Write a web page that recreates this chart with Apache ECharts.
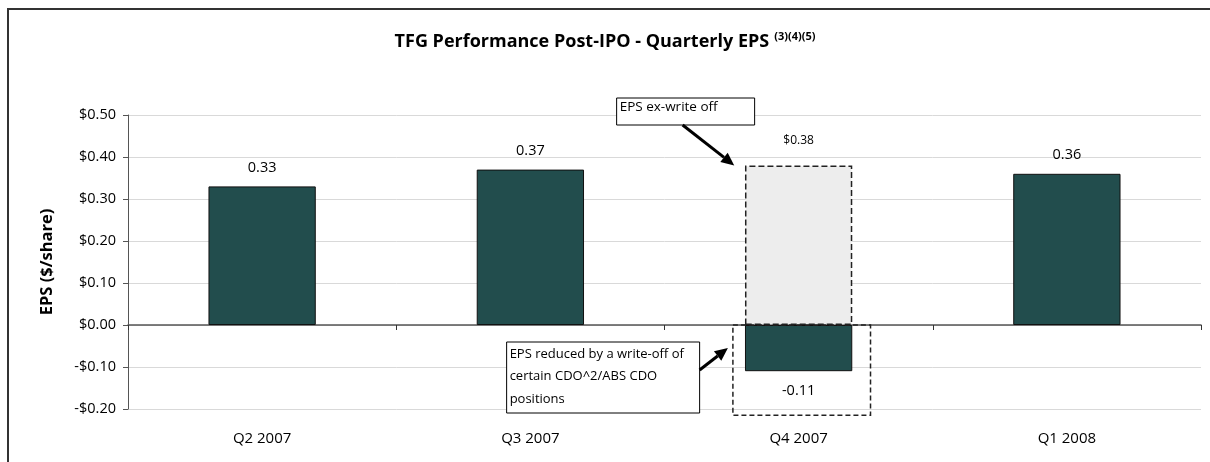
<!DOCTYPE html>
<html lang="en">
<head>
    <meta charset="UTF-8">
    <title>TFG Quarterly EPS</title>
    <style>
        html, body { margin: 0; padding: 0; background: #fff; }
        #chart { width: 1210px; height: 462px; }
    </style>
</head>
<body>
<div id="chart"></div>
<script src="https://cdn.jsdelivr.net/npm/echarts@6/dist/echarts.min.js"></script>
<script>
    // data
    const categories = ['Q2 2007', 'Q3 2007', 'Q4 2007', 'Q1 2008'];
    const epsValues = [0.33, 0.37, -0.11, 0.36];
    const exWriteOffValues = [null, null, 0.38, null];
    const yMin = -0.2;
    const yMax = 0.5;
    const yStep = 0.1;
    const writeOffBoxFloor = -0.215;   // bottom of the dashed box round the negative bar

    const font = '"Open Sans", Lato, sans-serif';
    const barColor = '#224d4d';

    const chart = echarts.init(document.getElementById('chart'));

    /* y label format: $0.10 / -$0.10 */
    function money(v) {
        const s = '$' + Math.abs(v).toFixed(2);
        return v < 0 ? '-' + s : s;
    }

    const option = {
        animation: false,
        title: {
            text: '{t|TFG Performance Post-IPO - Quarterly EPS} {s|(3)(4)(5)}',
            left: 'center',
            top: 26,
            textStyle: {
                rich: {
                    t: { fontFamily: font, fontWeight: 'bold', fontSize: 18, color: '#000' },
                    s: { fontFamily: font, fontWeight: 'bold', fontSize: 11, color: '#000', padding: [0, 0, 10, 0] }
                }
            }
        },
        grid: { left: 128, right: 9, top: 115, bottom: 53, containLabel: false },
        xAxis: [{
            type: 'category',
            data: categories,
            axisLine: { onZero: true, lineStyle: { color: '#555', width: 1.5 } },
            axisTick: { show: true, length: 5, inside: false, lineStyle: { color: '#333' } },
            axisLabel: { show: false },
            splitLine: { show: false }
        }, {
            type: 'category',
            data: categories,
            position: 'bottom',
            axisLine: { show: false, onZero: false },
            axisTick: { show: false },
            axisLabel: { show: true, margin: 22, fontFamily: font, fontSize: 15, color: '#000' }
        }],
        yAxis: {
            type: 'value',
            min: yMin,
            max: yMax,
            interval: yStep,
            name: 'EPS ($/share)',
            nameLocation: 'middle',
            nameGap: 72,
            nameTextStyle: { fontFamily: font, fontWeight: 'bold', fontSize: 16.5, color: '#000' },
            axisLine: { show: true, lineStyle: { color: '#555' } },
            axisTick: { show: true, length: 5, lineStyle: { color: '#555' } },
            axisLabel: { margin: 12, fontFamily: font, fontSize: 14.5, color: '#000', formatter: money },
            splitLine: { lineStyle: { color: '#d9d9d9' } }
        },
        series: [{
            name: 'EPS',
            type: 'bar',
            data: epsValues,
            barWidth: '40%',
            barGap: '-100%',
            itemStyle: { color: barColor, borderColor: '#111', borderWidth: 1 },
            label: {
                show: true,
                position: 'top',
                distance: 11,
                fontFamily: font,
                fontSize: 14.5,
                color: '#000',
                formatter: p => p.value.toFixed(2)
            },
            z: 3
        }, {
            name: 'EPS ex-write off',
            type: 'bar',
            data: exWriteOffValues,
            barWidth: '40%',
            barGap: '-100%',
            itemStyle: {
                color: '#ededed',
                borderColor: '#222',
                borderWidth: 1.5,
                borderType: 'dashed'
            },
            label: {
                show: true,
                position: 'top',
                distance: 19,
                fontFamily: font,
                fontSize: 12,
                color: '#000',
                formatter: p => money(p.value)
            },
            z: 2
        }]
    };

    // negative bar label goes underneath
    option.series[0].data = epsValues.map(v => v < 0
        ? { value: v, label: { position: 'bottom', distance: 12 } }
        : v);

    chart.setOption(option);

    /* arrow = line plus head */
    function arrow(x1, y1, x2, y2) {
        const dx = x2 - x1, dy = y2 - y1;
        const len = Math.sqrt(dx * dx + dy * dy);
        const ux = dx / len, uy = dy / len;
        const hl = 13, hw = 6;
        const bx = x2 - ux * hl, by = y2 - uy * hl;
        return [{
            type: 'line',
            shape: { x1: x1, y1: y1, x2: bx, y2: by },
            style: { stroke: '#000', lineWidth: 3 },
            z: 20
        }, {
            type: 'polygon',
            shape: { points: [[x2, y2], [bx - uy * hw, by + ux * hw], [bx + uy * hw, by - ux * hw]] },
            style: { fill: '#000' },
            z: 20
        }];
    }

    function noteBox(x, y, w, h, text, size, lh) {
        return [{
            type: 'rect',
            shape: { x: x, y: y, width: w, height: h },
            style: { fill: '#fff', stroke: '#000', lineWidth: 1 },
            z: 20
        }, {
            type: 'text',
            x: x + 3,
            y: y + 1,
            style: { text: text, fontFamily: font, fontSize: size, lineHeight: lh, fill: '#000' },
            z: 21
        }];
    }

    const q4 = categories[2];
    const p0 = chart.convertToPixel({ xAxisIndex: 0, yAxisIndex: 0 }, [q4, 0]);
    const pNext = chart.convertToPixel({ xAxisIndex: 0, yAxisIndex: 0 }, [categories[3], 0]);
    const band = pNext[0] - p0[0];
    const pFloor = chart.convertToPixel({ xAxisIndex: 0, yAxisIndex: 0 }, [q4, writeOffBoxFloor]);
    const pTop = chart.convertToPixel({ xAxisIndex: 0, yAxisIndex: 0 }, [q4, exWriteOffValues[2]]);
    const pNeg = chart.convertToPixel({ xAxisIndex: 0, yAxisIndex: 0 }, [q4, epsValues[2]]);

    const boxL = p0[0] - band * 0.245;
    const boxR = p0[0] + band * 0.268;

    const graphics = [{
        type: 'rect',
        shape: { x: 8, y: 9, width: 1240, height: 480 },
        style: { fill: 'none', stroke: '#333', lineWidth: 2 },
        silent: true,
        z: 0
    }, {
        type: 'rect',
        shape: { x: boxL, y: p0[1], width: boxR - boxL, height: pFloor[1] - p0[1] },
        style: { fill: 'none', stroke: '#222', lineWidth: 1.5, lineDash: [5, 3] },
        z: 15
    }];

    const topBoxX = p0[0] - 182, topBoxY = 98;
    graphics.push(...noteBox(topBoxX, topBoxY, 138, 27, 'EPS ex-write off', 13.5, 17));
    graphics.push(...arrow(topBoxX + 66, topBoxY + 27, p0[0] - band * 0.24, pTop[1]));

    const lowBoxX = p0[0] - 292, lowBoxY = 342;
    graphics.push(...noteBox(lowBoxX, lowBoxY, 193, 71,
        'EPS reduced by a write-off of\ncertain CDO^2/ABS CDO\npositions', 13, 22.5));
    graphics.push(...arrow(lowBoxX + 193, lowBoxY + 28, boxL - 5, (p0[1] + pNeg[1]) / 2));

    chart.setOption({ graphic: graphics });
</script>
</body>
</html>
